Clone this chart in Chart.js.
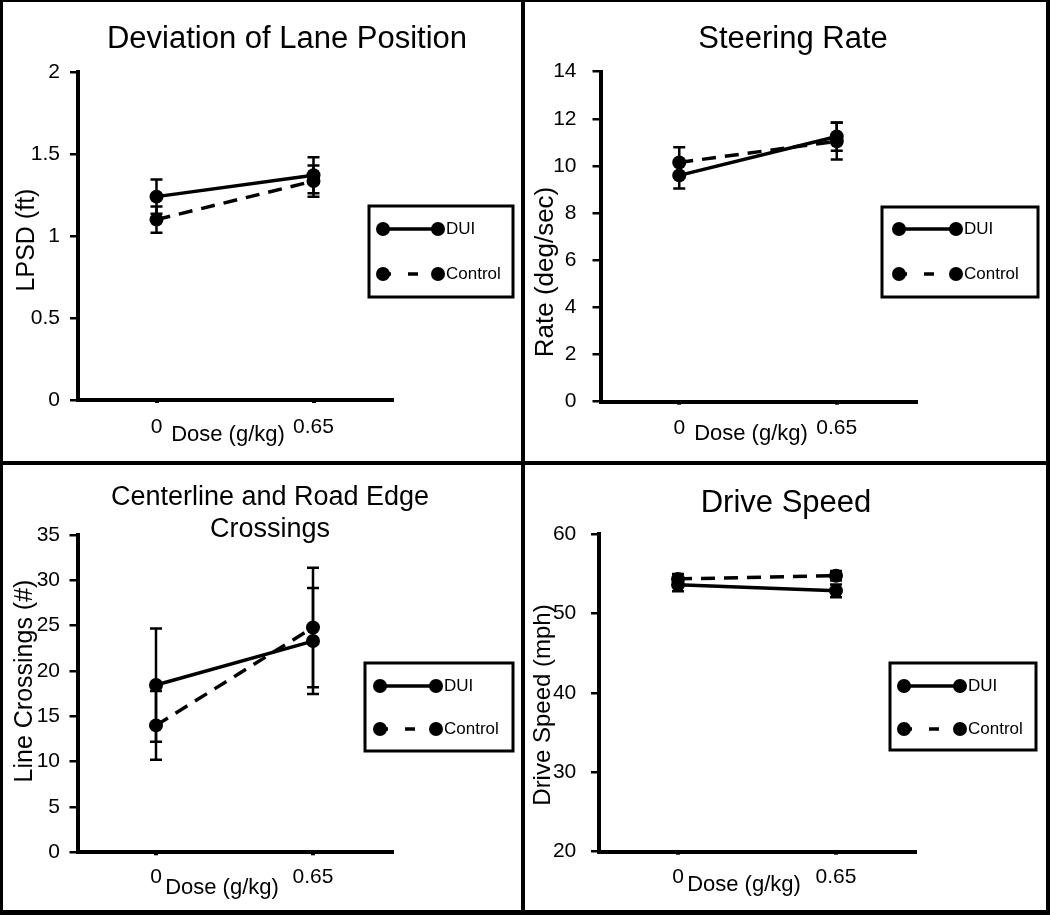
<!DOCTYPE html>
<html>
<head>
<meta charset="utf-8">
<script src="https://cdn.jsdelivr.net/npm/chart.js@4.4.1/dist/chart.umd.min.js"></script>
<style>
  body { margin: 0; background: #fff; }
  #wrap { position: relative; width: 1050px; height: 915px; overflow: hidden; }
  canvas { position: absolute; }
  .rule { position: absolute; background: #000; }
</style>
</head>
<body>
<div id="wrap">
  <canvas id="lpsd" width="523" height="463" style="left:0;top:0"></canvas>
  <canvas id="steer" width="527" height="463" style="left:523px;top:0"></canvas>
  <canvas id="cross" width="523" height="452" style="left:0;top:463px"></canvas>
  <canvas id="speed" width="527" height="452" style="left:523px;top:463px"></canvas>

  <div class="rule" style="left:0;top:0;width:3px;height:915px"></div>
  <div class="rule" style="left:0;top:0;width:1050px;height:2px"></div>
  <div class="rule" style="left:1046px;top:0;width:4px;height:915px"></div>
  <div class="rule" style="left:0;top:910px;width:1050px;height:5px"></div>
  <div class="rule" style="left:521px;top:0;width:4px;height:915px"></div>
  <div class="rule" style="left:0;top:461px;width:1050px;height:4px"></div>
</div>

<script>
// data
const doses = ["0", "0.65"];

const lpsdDui = [1.24, 1.37];
const lpsdDuiErr = [0.105, 0.11];
const lpsdControl = [1.10, 1.335];
const lpsdControlErr = [0.08, 0.095];

const steerDui = [9.6, 11.25];
const steerDuiErr = [0.55, 0.6];
const steerControl = [10.15, 11.05];
const steerControlErr = [0.65, 0.78];

const crossDui = [18.45, 23.3];
const crossDuiErr = [6.25, 5.85];
const crossControl = [14.0, 24.8];
const crossControlErr = [3.8, 6.6];

const speedDui = [53.6, 52.85];
const speedDuiErr = [0.8, 0.8];
const speedControl = [54.35, 54.75];
const speedControlErr = [0.6, 0.6];

const FONT = '"Liberation Sans", Arial, sans-serif';
Chart.defaults.font.family = FONT;
Chart.defaults.color = "#000";

// error bars drawn from each dataset's errors array
const errorBars = {
  id: "errorBars",
  afterDatasetsDraw(chart) {
    const ctx = chart.ctx;
    const y = chart.scales.y;
    ctx.save();
    ctx.strokeStyle = "#000";
    ctx.lineWidth = 2.5;
    chart.data.datasets.forEach((ds, i) => {
      chart.getDatasetMeta(i).data.forEach((pt, j) => {
        const top = y.getPixelForValue(ds.data[j] + ds.errors[j]);
        const bot = y.getPixelForValue(ds.data[j] - ds.errors[j]);
        ctx.beginPath();
        ctx.moveTo(pt.x, top); ctx.lineTo(pt.x, bot);
        ctx.moveTo(pt.x - 6, top); ctx.lineTo(pt.x + 6, top);
        ctx.moveTo(pt.x - 6, bot); ctx.lineTo(pt.x + 6, bot);
        ctx.stroke();
      });
    });
    ctx.restore();
  }
};

// excel style legend: line with a marker at each end, in a framed box
const boxLegend = {
  id: "boxLegend",
  afterDraw(chart, args, o) {
    const ctx = chart.ctx;
    ctx.save();
    ctx.fillStyle = "#fff";
    ctx.fillRect(o.x, o.y, o.w, o.h);
    ctx.lineWidth = 3;
    ctx.strokeStyle = "#000";
    ctx.strokeRect(o.x, o.y, o.w, o.h);
    ctx.fillStyle = "#000";
    ctx.font = "17px " + FONT;
    ctx.textBaseline = "middle";
    chart.data.datasets.forEach((ds, i) => {
      const ry = o.y + o.rows[i];
      const x1 = o.x + o.inset, x2 = x1 + o.len;
      ctx.setLineDash(ds.borderDash ? [8, 17, 10, 40] : []);
      ctx.lineWidth = ds.borderWidth;
      ctx.beginPath();
      ctx.moveTo(x1, ry); ctx.lineTo(x2, ry);
      ctx.stroke();
      ctx.setLineDash([]);
      [x1, x2].forEach(px => {
        ctx.beginPath();
        ctx.arc(px, ry, ds.pointRadius, 0, Math.PI * 2);
        ctx.fill();
      });
      ctx.fillText(ds.label, x2 + 8, ry);
    });
    ctx.restore();
  }
};

// titles placed where the original figure has them
const panelText = {
  id: "panelText",
  afterDraw(chart, args, o) {
    const ctx = chart.ctx;
    ctx.save();
    ctx.fillStyle = "#000";
    ctx.textAlign = "center";
    ctx.textBaseline = "middle";
    ctx.font = o.titleSize + "px " + FONT;
    o.title.forEach((line, k) => ctx.fillText(line, o.titleX, o.titleY + k * 32));
    ctx.font = "22px " + FONT;
    ctx.fillText("Dose (g/kg)", o.xTitleX, o.xTitleY);
    ctx.translate(o.yTitleX, o.yTitleY);
    ctx.rotate(-Math.PI / 2);
    ctx.font = o.yTitleSize + "px " + FONT;
    ctx.fillText(o.yTitle, 0, 0);
    ctx.restore();
  }
};

function makePanel(id, dui, duiErr, control, controlErr, p) {
  const canvas = document.getElementById(id);
  const W = canvas.width, H = canvas.height;
  return new Chart(canvas, {
    type: "line",
    data: {
      labels: doses,
      datasets: [
        {
          label: "DUI",
          data: dui,
          errors: duiErr,
          borderColor: "#000",
          backgroundColor: "#000",
          borderWidth: 3.5,
          pointRadius: 7,
          pointBorderWidth: 0,
          pointBackgroundColor: "#000",
          tension: 0,
          clip: false
        },
        {
          label: "Control",
          data: control,
          errors: controlErr,
          borderColor: "#000",
          backgroundColor: "#000",
          borderWidth: 3.5,
          borderDash: [14, 9],
          pointRadius: 7,
          pointBorderWidth: 0,
          pointBackgroundColor: "#000",
          tension: 0,
          clip: false
        }
      ]
    },
    options: {
      responsive: false,
      animation: false,
      devicePixelRatio: 1,
      layout: {
        padding: { left: 0, top: p.top, right: W - p.right, bottom: 0 }
      },
      plugins: {
        legend: { display: false },
        tooltip: { enabled: false },
        boxLegend: p.legend,
        panelText: p.text
      },
      scales: {
        x: {
          type: "category",
          offset: true,
          afterFit: s => { s.height = H - p.bottom; },
          border: { display: true, color: "#000", width: 4 },
          grid: { offset: false, drawOnChartArea: false, drawTicks: true, tickLength: 3, lineWidth: 4, color: "#000" },
          ticks: { font: { size: 21 }, padding: p.xPad, maxRotation: 0 }
        },
        y: {
          min: p.yMin,
          max: p.yMax,
          afterFit: s => { s.width = p.left; },
          border: { display: true, color: "#000", width: 4 },
          grid: { drawOnChartArea: false, drawTicks: true, tickLength: 8, lineWidth: 2.5, color: "#000" },
          ticks: {
            stepSize: p.step,
            font: { size: 21 },
            padding: p.yPad,
            callback: v => String(+v.toFixed(2))
          }
        }
      }
    },
    plugins: [errorBars, boxLegend, panelText]
  });
}

makePanel("lpsd", lpsdDui, lpsdDuiErr, lpsdControl, lpsdControlErr, {
  left: 78, right: 392, top: 72, bottom: 400,
  yMin: 0, yMax: 2, step: 0.5, yPad: 10, xPad: 12,
  legend: { x: 369, y: 206, w: 144, h: 91, rows: [23, 68], inset: 14, len: 55 },
  text: {
    title: ["Deviation of Lane Position"], titleSize: 31, titleX: 287, titleY: 39,
    yTitle: "LPSD (ft)", yTitleSize: 25, yTitleX: 27, yTitleY: 240,
    xTitleX: 228, xTitleY: 435
  }
});

makePanel("steer", steerDui, steerDuiErr, steerControl, steerControlErr, {
  left: 77.5, right: 392.5, top: 71.7, bottom: 401.7,
  yMin: 0, yMax: 14, step: 2, yPad: 16, xPad: 10.7,
  legend: { x: 359, y: 207, w: 156, h: 90, rows: [22, 67], inset: 17, len: 57 },
  text: {
    title: ["Steering Rate"], titleSize: 31, titleX: 270, titleY: 39,
    yTitle: "Rate (deg/sec)", yTitleSize: 26, yTitleX: 23, yTitleY: 272,
    xTitleX: 228, xTitleY: 434
  }
});

makePanel("cross", crossDui, crossDuiErr, crossControl, crossControlErr, {
  left: 77.5, right: 391.5, top: 72, bottom: 389.3,
  yMin: 0, yMax: 35, step: 5, yPad: 9.5, xPad: 9.6,
  legend: { x: 365, y: 200, w: 148, h: 88, rows: [23, 66], inset: 15, len: 56 },
  text: {
    title: ["Centerline and Road Edge", "Crossings"], titleSize: 27, titleX: 270, titleY: 35,
    yTitle: "Line Crossings (#)", yTitleSize: 25, yTitleX: 25, yTitleY: 218,
    xTitleX: 222, xTitleY: 425
  }
});

makePanel("speed", speedDui, speedDuiErr, speedControl, speedControlErr, {
  left: 76, right: 392, top: 71, bottom: 388.7,
  yMin: 20, yMax: 60, step: 10, yPad: 14.7, xPad: 10.4,
  legend: { x: 367, y: 200, w: 146, h: 87, rows: [23, 66], inset: 14, len: 56 },
  text: {
    title: ["Drive Speed"], titleSize: 31, titleX: 263, titleY: 40,
    yTitle: "Drive Speed (mph)", yTitleSize: 24, yTitleX: 20, yTitleY: 242,
    xTitleX: 221, xTitleY: 422
  }
});
</script>
</body>
</html>
